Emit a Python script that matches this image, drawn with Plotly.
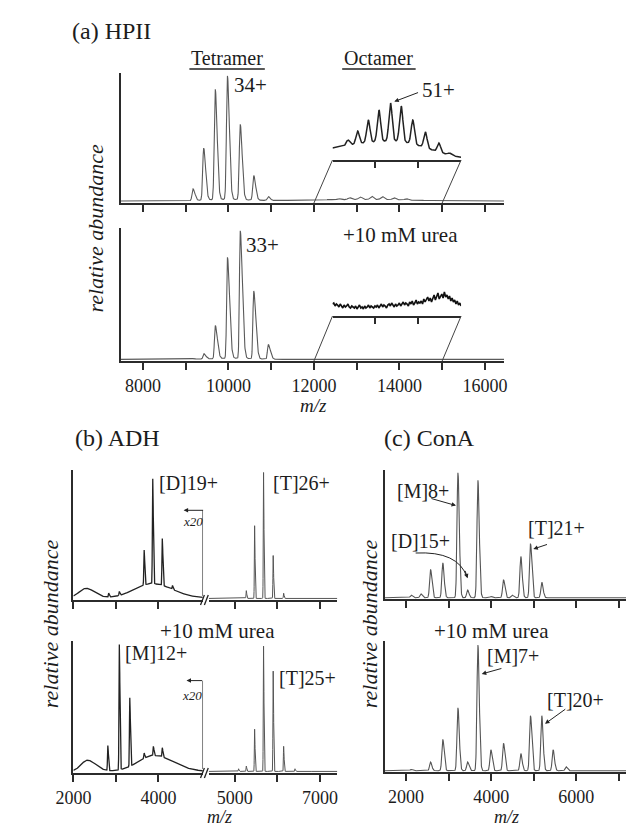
import numpy as np
import plotly.graph_objects as go

W, H = 634, 830
FONT = "Liberation Serif"
AXC = "#2b2b2b"
TXT = "#1c1c1c"

# ---------------- data ----------------
# (a) HPII tetramer charge-state series
HPII_TET_MZ = [9170, 9420, 9690, 9975, 10275, 10590, 10930]
HPII_TET_CTRL = [0.09, 0.40, 0.85, 0.95, 0.58, 0.19, 0.03]
HPII_TET_UREA = [0.005, 0.04, 0.25, 0.76, 0.96, 0.51, 0.11]
# octamer series (magnified inset units)
HPII_OCT_MZ = [12361, 12587, 12835, 13084, 13354, 13603, 13874, 14167, 14483, 14731]
HPII_OCT_CTRL = [5.3, 12.7, 22.4, 31.4, 38.0, 35.6, 23.9, 15.7, 9.1, 1.9]
HPII_OCT_ENV_MZ = [13400]
HPII_OCT_ENV_H = [19.0]
# octamer region with urea (magnified inset units, 12000-15000, every 30 m/z)
HPII_OCT_UREA = [
    12, 13, 10, 12, 11, 9, 12, 10, 8, 11, 9, 10, 12, 9, 8, 10, 9,
    8, 10, 7, 9, 11, 8, 9, 7, 10, 8, 9, 11, 8, 10, 9, 8, 10,
    9, 11, 8, 10, 12, 9, 11, 10, 8, 11, 12, 10, 13, 11, 9, 12, 10,
    11, 13, 10, 12, 14, 11, 13, 12, 10, 14, 12, 15, 11, 13, 16, 12, 14,
    13, 15, 12, 17, 14, 16, 19, 15, 18, 14, 17, 21, 16, 19, 23, 17, 20,
    22, 18, 24, 19, 21, 17, 20, 15, 18, 14, 16, 12, 15, 11, 13, 10,
]

# (b) ADH, low m/z region (x20)
ADH_LOW_CTRL_MZ = [2830, 3080, 3663, 3865, 4090, 4330]
ADH_LOW_CTRL_H = [0.03, 0.03, 0.27, 0.81, 0.36, 0.03]
ADH_HUMP_CTRL_MZ = [2300, 3850]
ADH_HUMP_CTRL_H = [0.075, 0.11]
ADH_LOW_UREA_MZ = [2810, 3080, 3326, 3663, 3880, 4090]
ADH_LOW_UREA_H = [0.19, 0.95, 0.52, 0.04, 0.07, 0.07]
ADH_HUMP_UREA_MZ = [2330, 3900]
ADH_HUMP_UREA_H = [0.085, 0.12]
# (b) ADH tetramer series
ADH_T_MZ = [5087, 5269, 5464, 5674, 5901, 6147, 6414]
ADH_T_CTRL = [0.0, 0.06, 0.56, 0.97, 0.33, 0.04, 0.0]
ADH_T_UREA = [0.02, 0.04, 0.32, 0.95, 0.76, 0.19, 0.02]

# (c) ConA
CONA_MZ = [2121, 2348, 2576, 2864, 3220, 3447, 3689, 3993, 4290, 4492, 4697, 4924, 5189, 5455, 5758]
CONA_CTRL = [0.02, 0.03, 0.22, 0.27, 0.97, 0.06, 0.91, 0.01, 0.14, 0.02, 0.32, 0.42, 0.12, 0.0, 0.0]
CONA_UREA = [0.01, 0.0, 0.066, 0.24, 0.48, 0.066, 0.96, 0.16, 0.21, 0.0, 0.13, 0.42, 0.42, 0.16, 0.03]

A_TICKS = [8000, 9000, 10000, 11000, 12000, 13000, 14000, 15000, 16000]
A_TICKTEXT = ["8000", "", "10000", "", "12000", "", "14000", "", "16000"]
BL_TICKS = [2000, 3000, 4000]
BL_TICKTEXT = ["2000", "", "4000"]
BR_TICKS = [5000, 6000, 7000]
BR_TICKTEXT = ["5000", "", "7000"]
C_TICKS = [2000, 3000, 4000, 5000, 6000, 7000]
C_TICKTEXT = ["2000", "", "4000", "", "6000", ""]

# ---------------- layout geometry (pixels) ----------------
D = 15  # upward shift of the bottom row of panels
A_XR, A_XD = [7480, 16450], [98, 494.5]
A_TOP_Y, A_BOT_Y = (195, 65), (353, 220)
IN_XR, IN_XD = [12000, 15000], [317, 450]
IN1_Y, IN2_Y = (152, 92), (308, 248)
BL_XR, BL_XD = [2000, 5050], [49, 183.2]
BR_XR, BR_XD = [4386, 7409], [189, 322]
B_TOP_Y, B_BOT_Y = (607 - D, 477 - D), (780 - D, 648 - D)
C_XR, C_XD = [1500, 7450], [371, 633]
C_TOP_Y, C_BOT_Y = (606 - D, 477 - D), (779 - D, 648 - D)
OCT_SCALE = 1 / 1560.0


def peaks(grid, mz, h, sl, sr):
    y = np.zeros_like(grid, dtype=float)
    for m, a in zip(mz, h):
        d = grid - m
        y += a * np.exp(-0.5 * (d / np.where(d < 0, sl, sr)) ** 2)
    return y


def map_px(v, r, d):
    return d[0] + (v - r[0]) / (r[1] - r[0]) * (d[1] - d[0])


# ---------------- spectra ----------------
ga = np.arange(A_XR[0], A_XR[1], 4.0)
oct_ctrl = peaks(ga, HPII_OCT_MZ, HPII_OCT_CTRL, 38, 38) + peaks(ga, HPII_OCT_ENV_MZ, HPII_OCT_ENV_H, 1460, 820)
a_ctrl = 0.015 + peaks(ga, HPII_TET_MZ, HPII_TET_CTRL, 22, 45) + peaks(ga, [9950], [0.012], 500, 500) + OCT_SCALE * oct_ctrl
a_urea = 0.012 + peaks(ga, HPII_TET_MZ, HPII_TET_UREA, 18, 50) + peaks(ga, [10100], [0.008], 500, 500)
in_mask = (ga >= IN_XR[0]) & (ga <= IN_XR[1])
g_urea_in = np.linspace(IN_XR[0], IN_XR[1], len(HPII_OCT_UREA))

gbl = np.arange(BL_XR[0], 5040, 2.0)
b_low_ctrl = 0.015 + peaks(gbl, ADH_HUMP_CTRL_MZ[:1], ADH_HUMP_CTRL_H[:1], 170, 200) \
    + peaks(gbl, ADH_HUMP_CTRL_MZ[1:], ADH_HUMP_CTRL_H[1:], 420, 480) \
    + peaks(gbl, ADH_LOW_CTRL_MZ, ADH_LOW_CTRL_H, 8, 14)
b_low_urea = 0.012 + peaks(gbl, ADH_HUMP_UREA_MZ[:1], ADH_HUMP_UREA_H[:1], 150, 200) \
    + peaks(gbl, ADH_HUMP_UREA_MZ[1:], ADH_HUMP_UREA_H[1:], 380, 450) \
    + peaks(gbl, ADH_LOW_UREA_MZ, ADH_LOW_UREA_H, 8, 14)
gbr = np.arange(BR_XR[0], BR_XR[1], 1.5)
b_t_ctrl = 0.012 + peaks(gbr, ADH_T_MZ, ADH_T_CTRL, 6, 10)
b_t_urea = 0.012 + peaks(gbr, ADH_T_MZ, ADH_T_UREA, 6, 10)

gc = np.arange(C_XR[0], C_XR[1], 3.0)
c_ctrl = 0.01 + peaks(gc, CONA_MZ, CONA_CTRL, 22, 32)
c_urea = 0.01 + peaks(gc, CONA_MZ, CONA_UREA, 22, 32)

fig = go.Figure()


def line(x, y, xa, ya, color="#5a5a5a", width=1.1):
    fig.add_trace(go.Scatter(x=x, y=y, xaxis=xa, yaxis=ya, mode="lines",
                             line=dict(color=color, width=width), hoverinfo="skip", showlegend=False))


line(ga, a_ctrl, "x", "y")
line(ga, a_urea, "x2", "y2")
line(ga[in_mask], oct_ctrl[in_mask], "x3", "y3", color="#222", width=1.5)
line(g_urea_in, HPII_OCT_UREA, "x4", "y4", color="#111", width=1.6)
line(gbl, b_low_ctrl, "x5", "y5", color="#222", width=1.3)
line(gbr, b_t_ctrl, "x6", "y5", color="#555", width=1.0)
line(gbl, b_low_urea, "x7", "y7", color="#222", width=1.3)
line(gbr, b_t_urea, "x8", "y7", color="#555", width=1.0)
line(gc, c_ctrl, "x9", "y9", color="#555", width=1.1)
line(gc, c_urea, "x10", "y10", color="#555", width=1.1)


def xax(dom, rng, anchor, tickvals, ticktext=None, labels=False, ticklen=7):
    d = dict(domain=[dom[0] / W, dom[1] / W], range=rng, anchor=anchor,
             showline=True, linecolor=AXC, linewidth=2, ticks="outside", ticklen=ticklen,
             tickwidth=1.5, tickcolor=AXC, tickvals=tickvals, showgrid=False, zeroline=False,
             showticklabels=labels, tickfont=dict(family=FONT, size=18, color=TXT), fixedrange=True)
    if ticktext is not None:
        d["ticktext"] = ticktext
    return d


def yax(ypx, anchor, rng=(0, 1), visible=True):
    return dict(domain=[1 - ypx[0] / H, 1 - ypx[1] / H], range=list(rng), anchor=anchor,
                showline=visible, visible=visible, linecolor=AXC, linewidth=2, ticks="",
                showticklabels=False, showgrid=False, zeroline=False, fixedrange=True)


layout = dict(
    width=W, height=H, margin=dict(l=0, r=0, t=0, b=0),
    paper_bgcolor="white", plot_bgcolor="rgba(0,0,0,0)", showlegend=False,
    xaxis=xax(A_XD, A_XR, "y", A_TICKS, A_TICKTEXT),
    yaxis=yax(A_TOP_Y, "x"),
    xaxis2=xax(A_XD, A_XR, "y2", A_TICKS, A_TICKTEXT, labels=True),
    yaxis2=yax(A_BOT_Y, "x2"),
    xaxis3=xax(IN_XD, IN_XR, "y3", [13000, 14000], ticklen=6),
    yaxis3=yax(IN1_Y, "x3", (0, 60), visible=False),
    xaxis4=xax(IN_XD, IN_XR, "y4", [13000, 14000], ticklen=6),
    yaxis4=yax(IN2_Y, "x4", (0, 60), visible=False),
    xaxis5=xax(BL_XD, BL_XR, "y5", BL_TICKS, BL_TICKTEXT),
    yaxis5=yax(B_TOP_Y, "x5"),
    xaxis6=xax(BR_XD, BR_XR, "y5", BR_TICKS, BR_TICKTEXT),
    xaxis7=xax(BL_XD, BL_XR, "y7", BL_TICKS, BL_TICKTEXT, labels=True),
    yaxis7=yax(B_BOT_Y, "x7"),
    xaxis8=xax(BR_XD, BR_XR, "y7", BR_TICKS, BR_TICKTEXT, labels=True),
    xaxis9=xax(C_XD, C_XR, "y9", C_TICKS, C_TICKTEXT),
    yaxis9=yax(C_TOP_Y, "x9"),
    xaxis10=xax(C_XD, C_XR, "y10", C_TICKS, C_TICKTEXT, labels=True),
    yaxis10=yax(C_BOT_Y, "x10"),
)
fig.update_layout(**layout)

ann = []


def text(x, y, s, size=21, xanchor="left", angle=0):
    ann.append(dict(x=x / W, y=1 - y / H, xref="paper", yref="paper", text=s, showarrow=False,
                    xanchor=xanchor, yanchor="middle", textangle=angle,
                    font=dict(family=FONT, size=size, color=TXT)))


def arrow(x, y, xa, ya, axp, ayp, standoff=3):
    ann.append(dict(x=x, y=y, xref=xa, yref=ya, ax=axp, ay=ayp, text="", showarrow=True,
                    arrowhead=2, arrowsize=0.9, arrowwidth=1, arrowcolor="#222", standoff=standoff))


# panel (a)
text(45, 23, "(a) HPII", 24)
text(208, 50, "Tetramer", 20, "center")
text(365, 50, "Octamer", 20, "center")
text(213, 77, "34+")
text(408, 82, "51+")
text(387, 227, "+10 mM urea", 21, "center")
text(225, 237, "33+")
text(72, 220, "<i>relative abundance</i>", 22, "center", -90)
text(297, 397, "<i>m/z</i>", 19, "center")
oct_top = float(peaks(np.array([13354.0]), HPII_OCT_MZ, HPII_OCT_CTRL, 38, 38)[0]
                + peaks(np.array([13354.0]), HPII_OCT_ENV_MZ, HPII_OCT_ENV_H, 1460, 820)[0])
arrow(13354, oct_top, "x3", "y3", 29, -11, 4)

# panel (b)
text(49, 445 - D, "(b) ADH", 24)
text(136, 490 - D, "[D]19+", 20)
text(253, 490 - D, "[T]26+", 20)
text(173, 528 - D, "<i>x20</i>", 13, "center")
text(198, 638 - D, "+10 mM urea", 21, "center")
text(100, 660 - D, "[M]12+", 20)
text(260, 685 - D, "[T]25+", 20)
text(172, 702 - D, "<i>x20</i>", 13, "center")
text(25, 631 - D, "<i>relative abundance</i>", 22, "center", -90)
text(200, 809, "<i>m/z</i>", 18, "center")
arrow(4591, 0.69, "x5", "y5", 21, 0, 0)
arrow(4659, 0.70, "x7", "y7", 17, 0, 0)

# panel (c)
text(368, 445 - D, "(c) ConA", 24)
text(382, 498 - D, "[M]8+", 20)
text(375, 548 - D, "[D]15+", 20)
text(517, 535 - D, "[T]21+", 20)
text(481, 638 - D, "+10 mM urea", 21, "center")
text(475, 663 - D, "[M]7+", 20)
text(537, 707 - D, "[T]20+", 20)
text(355, 631 - D, "<i>relative abundance</i>", 22, "center", -90)
text(497, 809, "<i>m/z</i>", 18, "center")
arrow(3220, 0.72, "x9", "y9", -28, -8, 2)
arrow(4924, 0.38, "x9", "y9", 18, -6, 3)
arrow(3689, 0.74, "x10", "y10", 25, -7, 4)
arrow(5189, 0.35, "x10", "y10", 25, -18, 4)
arrow(3447, 0.16, "x9", "y9", -3, -9, 0)
fig.update_layout(annotations=ann)

shapes = []


def pline(x0, y0, x1, y1, color="#444", width=1.0):
    shapes.append(dict(type="line", xref="paper", yref="paper", x0=x0 / W, y0=1 - y0 / H,
                       x1=x1 / W, y1=1 - y1 / H, line=dict(color=color, width=width)))


# underlines
pline(169, 61, 247, 61, "#222", 1.5)
pline(327, 61, 403, 61, "#222", 1.5)
# inset connectors (a)
for base_y, in_y in ((A_TOP_Y[0], IN1_Y[0]), (A_BOT_Y[0], IN2_Y[0])):
    for v in IN_XR:
        pline(map_px(v, A_XR, A_XD), base_y, map_px(v, IN_XR, IN_XD), in_y, "#444", 1.0)
# axis breaks (b)
for by in (B_TOP_Y[0], B_BOT_Y[0]):
    pline(180.5, by + 5, 184.5, by - 5, "#222", 1.3)
    pline(184.5, by + 5, 188.5, by - 5, "#222", 1.3)
# x20 markers (b)
shapes.append(dict(type="line", xref="x5", yref="y5", x0=5040, x1=5040, y0=0.03, y1=0.69,
                   line=dict(color="#666", width=1)))
shapes.append(dict(type="line", xref="x7", yref="y7", x0=5040, x1=5040, y0=0.03, y1=0.70,
                   line=dict(color="#666", width=1)))


# curved arrow for [D]15+
def P(x, y):
    return f"{x / W:.5f},{1 - y / H:.5f}"


shapes.append(dict(type="path", xref="paper", yref="paper",
                   path=f"M {P(403, 560 - D)} Q {P(447, 558 - D)} {P(456, 584 - D)}",
                   line=dict(color="#222", width=1)))
fig.update_layout(shapes=shapes)

fig.write_html("out.html")
